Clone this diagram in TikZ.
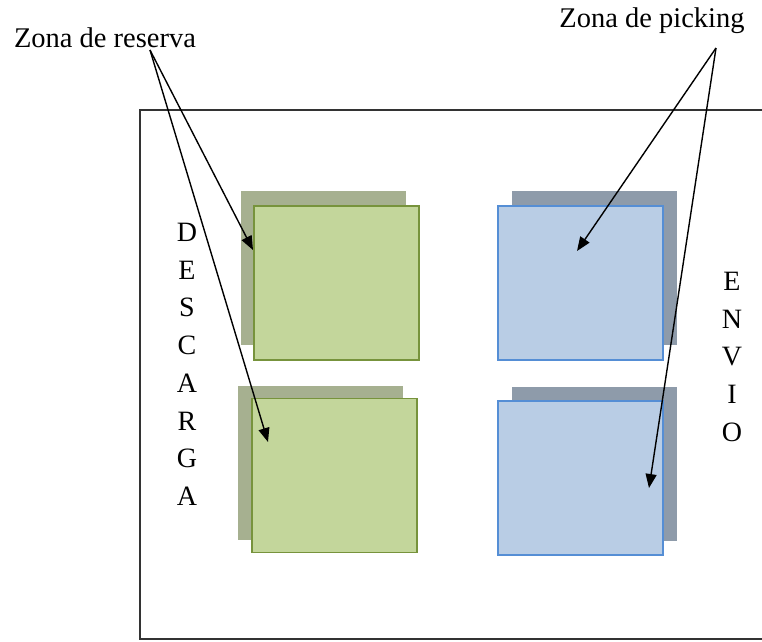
\documentclass[tikz,border=0pt]{standalone}
\usepackage{fontspec}
\setmainfont{Liberation Serif}
\usetikzlibrary{arrows.meta}

\definecolor{resfill}{HTML}{C3D69B}
\definecolor{resline}{HTML}{77933C}
\definecolor{resshade}{HTML}{A6B090}
\definecolor{pickfill}{HTML}{B9CDE5}
\definecolor{pickline}{HTML}{558ED5}
\definecolor{pickshade}{HTML}{8E9BAA}

\begin{document}
\begin{tikzpicture}[
  x=1pt, y=-1pt,
  zone/.style={rectangle, inner sep=0pt, minimum width=165pt, minimum height=154pt},
  resshadow/.style={zone, fill=resshade},
  resbox/.style={zone, fill=resfill, draw=resline, line width=1.2pt},
  pickshadow/.style={zone, fill=pickshade},
  pickbox/.style={zone, fill=pickfill, draw=pickline, line width=1.2pt},
  label/.style={font=\fontsize{28.5}{33}\selectfont, inner sep=0pt},
  vlabel/.style={font=\fontsize{28}{37.7}\selectfont, align=center, inner sep=0pt, anchor=north},
  pointer/.style={-{Triangle[length=14pt, width=11pt]}, line width=1.4pt}
]
  \useasboundingbox (0,0) rectangle (762,641);
  \fill[white] (0,0) rectangle (762,641);

  % warehouse outline, open to the right
  \draw[line width=1.6pt, black!80] (790,110) -- (140,110) -- (140,639) -- (790,639);

  % storage zones
  \node[resshadow] (res1s) at (323,268) {};
  \node[resbox] (res1) at (336.5,283) {};
  \node[resshadow] (res2s) at (320.5,462.5) {};
  \node[resbox] (res2) at (334.5,475.5) {};
  \node[pickshadow] (pick1s) at (594.5,268) {};
  \node[pickbox] (pick1) at (580.5,283) {};
  \node[pickshadow] (pick2s) at (594.5,464) {};
  \node[pickbox] (pick2) at (580.5,478) {};

  % docks
  \node[vlabel] (descarga) at (187,223) {D\\E\\S\\C\\A\\R\\G\\A};
  \node[vlabel] (envio) at (732,272) {E\\N\\V\\I\\O};

  % labels
  \node[label, anchor=base] (reserva) at (105,47) {Zona de reserva};
  \node[label, anchor=base] (picking) at (652,27) {Zona de picking};

  \coordinate (reservatail) at (150,50);
  \coordinate (pickingtail) at (716,48);
  \coordinate (res1tip) at (253,250);
  \coordinate (res2tip) at (268,442);
  \coordinate (pick1tip) at (577,251);
  \coordinate (pick2tip) at (649,488);

  \draw[pointer] (reservatail) -- (res1tip);
  \draw[pointer] (reservatail) -- (res2tip);
  \draw[pointer] (pickingtail) -- (pick1tip);
  \draw[pointer] (pickingtail) -- (pick2tip);
\end{tikzpicture}
\end{document}
